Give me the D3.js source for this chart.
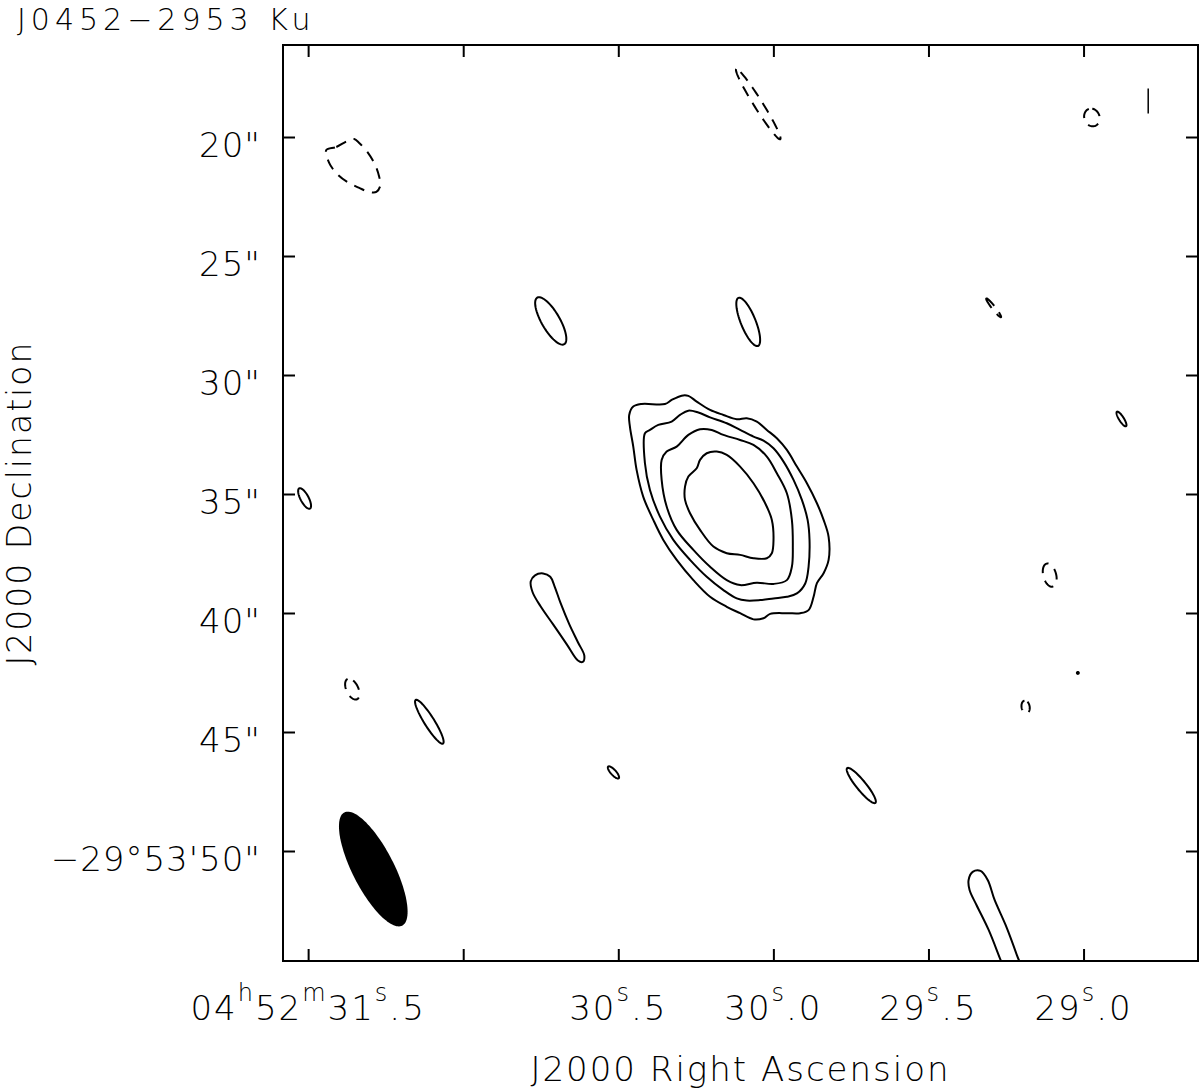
<!DOCTYPE html>
<html>
<head>
<meta charset="utf-8">
<script src="https://cdn.jsdelivr.net/npm/d3@7"></script>
<style>
  body { margin: 0; background: #fff; }
  text { font-family: "DejaVu Sans", "Liberation Sans", sans-serif; font-weight: 200; fill: #000; }
</style>
</head>
<body>
<script>
//Axis extents (RA seconds of 04h52m, Dec arcsec of -29d53m)
const raExtent = [31.581, 28.631];
const decExtent = [16.134, 54.622];

//Tick values and their labels ("^" marks a superscript letter)
const raTicks = [31.5, 31.0, 30.5, 30.0, 29.5, 29.0];
const raTickLabels = ["04^h52^m31^s.5", "", "30^s.5", "30^s.0", "29^s.5", "29^s.0"];
const decTicks = [20, 25, 30, 35, 40, 45, 50];
const decTickLabels = ["20\"", "25\"", "30\"", "35\"", "40\"", "45\"", "\u221229\u00b053'50\""];

//Phase centre the contour offsets are measured from
const RA0 = 30.1057;
const DEC0 = 35.378;
const secToArcsec = 15 * Math.cos((29 + 53 / 60 + 35.4 / 3600) * Math.PI / 180);

//Source contours, [east offset", north offset"] from outermost to innermost
const contourLevel1 = [
  [4.67,3.70],[4.50,4.05],[4.15,4.16],[3.17,4.16],[2.89,4.33],[2.47,4.51],[2.19,4.50],[1.84,4.26],
  [1.28,3.91],[0.72,3.70],[0.16,3.52],[-0.26,3.56],[-0.68,3.42],[-1.10,3.07],[-1.52,2.72],[-1.94,2.23],
  [-2.36,1.53],[-2.78,0.83],[-3.20,-0.01],[-3.48,-0.71],[-3.69,-1.42],[-3.69,-2.39],[-3.48,-2.95],
  [-3.20,-3.37],[-3.06,-3.94],[-2.85,-4.50],[-2.50,-4.63],[-1.94,-4.63],[-1.24,-4.66],[-0.96,-4.84],
  [-0.54,-4.89],[0.02,-4.63],[0.58,-4.36],[1.28,-3.94],[1.98,-3.24],[2.68,-2.39],[3.24,-1.55],
  [3.66,-0.71],[4.08,0.26],[4.36,1.39],[4.50,2.37],[4.64,3.21]
];
const contourLevel2 = [
  [4.01,2.93],[3.80,3.07],[3.45,3.28],[2.89,3.42],[2.54,3.70],[2.19,3.88],[1.77,3.80],[1.28,3.60],
  [0.58,3.35],[0.02,3.07],[-0.54,2.79],[-0.96,2.62],[-1.38,2.30],[-1.80,1.74],[-2.22,0.97],[-2.57,0.13],
  [-2.81,-0.71],[-2.89,-1.55],[-2.85,-2.68],[-2.71,-3.38],[-2.36,-3.80],[-1.94,-3.94],[-1.38,-4.01],
  [-0.82,-4.08],[-0.26,-4.10],[0.16,-4.01],[0.72,-3.66],[1.42,-3.10],[2.12,-2.39],[2.82,-1.55],
  [3.38,-0.57],[3.80,0.55],[4.01,1.67]
];
const contourLevel3 = [
  [3.31,0.97],[3.31,1.81],[3.10,2.16],[2.68,2.37],[2.19,2.86],[1.70,3.10],[1.21,3.07],[0.72,2.86],
  [0.02,2.65],[-0.54,2.44],[-1.10,1.95],[-1.52,1.25],[-1.94,0.41],[-2.15,-0.71],[-2.19,-1.83],
  [-2.15,-2.68],[-1.94,-3.24],[-1.38,-3.40],[-0.68,-3.35],[0.02,-3.45],[0.58,-3.24],[1.28,-2.68],
  [1.98,-1.97],[2.68,-1.13],[3.10,-0.15]
];
const contourLevel4 = [
  [2.33,0.13],[2.33,0.69],[2.19,1.11],[1.84,1.46],[1.70,1.81],[1.42,2.09],[1.00,2.16],[0.58,2.02],
  [0.02,1.53],[-0.54,0.83],[-1.03,-0.01],[-1.31,-0.71],[-1.38,-1.55],[-1.31,-2.11],[-1.10,-2.32],
  [-0.54,-2.32],[0.02,-2.18],[0.58,-2.11],[1.14,-1.83],[1.70,-1.13],[2.12,-0.43]
];

//Positive side lobes that are not simple ellipses
const lobeWest = [
  [8.80,-3.30],[8.62,-3.04],[8.28,-2.96],[7.98,-3.10],[7.80,-3.50],[7.55,-4.20],[7.18,-5.10],
  [6.82,-5.85],[6.55,-6.42],[6.62,-6.68],[6.82,-6.62],[7.28,-5.95],[7.86,-5.10],[8.38,-4.35],[8.72,-3.75]
];
const lobeSouthEast = [
  [-9.56,-15.84],[-9.73,-15.50],[-10.06,-15.46],[-10.36,-15.84],[-10.65,-16.68],[-11.11,-17.73],
  [-11.58,-18.99],[-12.00,-20.25],[-11.32,-20.25],[-10.90,-19.20],[-10.40,-17.94],[-9.89,-16.89],[-9.60,-16.26]
];
const lobeStripe = [[-17.09,17.42],[-17.09,16.37]];

//Negative contour that is not a simple ellipse
const negativeNorthEast = [
  [17.37,14.83],[16.95,14.96],[16.49,15.21],[16.20,15.29],[15.99,15.13],[15.65,14.75],[15.32,14.20],
  [15.15,13.70],[15.10,13.36],[15.27,13.07],[15.57,13.07],[15.99,13.24],[16.49,13.49],[16.91,13.82],[17.25,14.29]
];

//Small elliptical blobs: [east", north", semi-major", semi-minor", PA deg]
const positiveBlobs = [
  [7.96,7.65,1.13,0.38,30],
  [-0.32,7.61,1.09,0.31,22],
  [18.28,0.19,0.48,0.17,28],
  [5.33,-11.32,0.33,0.11,42],
  [-5.06,-11.87,0.94,0.20,39],
  [13.05,-9.19,1.08,0.21,32],
  [-15.97,3.53,0.36,0.10,32],
  [-14.14,-7.14,0.04,0.04,0]
];
const negativeBlobs = [
  [-0.74,16.76,1.74,0.18,32],
  [-14.73,16.20,0.38,0.32,20],
  [-10.61,8.20,0.50,0.07,38],
  [-12.96,-3.03,0.50,0.27,15],
  [16.28,-7.82,0.47,0.25,25],
  [-11.95,-8.57,0.27,0.17,10]
];

//Restoring beam: [east", north", bmaj", bmin", PA deg]
const beam = [15.40, -15.38, 5.34, 1.74, 27];

const width = 1200;
const height = 1091;
const margin = {left: 283, right: 2, top: 45, bottom: 130};

const svg = d3.select("body").append("svg")
  .attr("width", width)
  .attr("height", height);

//Scales: RA grows to the left, Dec seconds grow downward
const x = d3.scaleLinear().domain(raExtent).range([margin.left, width - margin.right]);
const y = d3.scaleLinear().domain(decExtent).range([margin.top, height - margin.bottom]);

//offset (east", north") -> pixel
const toXY = ([e, n]) => [x(RA0 + e / secToArcsec), y(DEC0 - n)];

//points round an ellipse given in offsets
function ellipsePoints([e0, n0, a, b, pa], count = 72) {
  const p = pa * Math.PI / 180;
  return d3.range(count).map(i => {
    const t = 2 * Math.PI * i / count;
    const u = a * Math.cos(t), v = b * Math.sin(t);
    return [e0 + u * Math.sin(p) + v * Math.cos(p), n0 + u * Math.cos(p) - v * Math.sin(p)];
  });
}

svg.append("clipPath").attr("id", "plotClip")
  .append("rect")
  .attr("x", margin.left).attr("y", margin.top)
  .attr("width", width - margin.right - margin.left)
  .attr("height", height - margin.bottom - margin.top);

const g = svg.append("g").attr("clip-path", "url(#plotClip)");

const smoothLine = d3.line().curve(d3.curveCatmullRomClosed.alpha(0.5));
const ellipseLine = d3.line().curve(d3.curveLinearClosed);

//Source and irregular lobes
g.selectAll(".contour")
  .data([contourLevel1, contourLevel2, contourLevel3, contourLevel4, lobeWest, lobeSouthEast])
  .join("path")
  .attr("class", "contour")
  .attr("d", d => smoothLine(d.map(toXY)))
  .attr("fill", "none")
  .attr("stroke", "#000")
  .attr("stroke-width", 2);

g.append("path")
  .attr("d", d3.line()(lobeStripe.map(toXY)))
  .attr("stroke", "#000")
  .attr("stroke-width", 1.5);

g.append("path")
  .attr("d", smoothLine(negativeNorthEast.map(toXY)))
  .attr("fill", "none")
  .attr("stroke", "#000")
  .attr("stroke-width", 2)
  .attr("stroke-dasharray", "11,8");

g.selectAll(".posBlob")
  .data(positiveBlobs)
  .join("path")
  .attr("class", "posBlob")
  .attr("d", d => ellipseLine(ellipsePoints(d).map(toXY)))
  .attr("fill", "none")
  .attr("stroke", "#000")
  .attr("stroke-width", 2);

g.selectAll(".negBlob")
  .data(negativeBlobs)
  .join("path")
  .attr("class", "negBlob")
  .attr("d", d => ellipseLine(ellipsePoints(d).map(toXY)))
  .attr("fill", "none")
  .attr("stroke", "#000")
  .attr("stroke-width", 2)
  .attr("stroke-dasharray", "11,8");

//Beam
g.append("path")
  .attr("d", ellipseLine(ellipsePoints([beam[0], beam[1], beam[2] / 2, beam[3] / 2, beam[4]], 120).map(toXY)))
  .attr("fill", "#000");

//Ticks on all four sides, pointing inward
const tickLen = 12;
const axes = [
  [d3.axisBottom(x).tickValues(raTicks), `translate(0,${height - margin.bottom})`],
  [d3.axisTop(x).tickValues(raTicks), `translate(0,${margin.top})`],
  [d3.axisLeft(y).tickValues(decTicks), `translate(${margin.left},0)`],
  [d3.axisRight(y).tickValues(decTicks), `translate(${width - margin.right},0)`]
];
axes.forEach(([axis, tr]) => {
  const a = svg.append("g").attr("transform", tr)
    .call(axis.tickSize(-tickLen).tickFormat(""));
  a.select(".domain").remove();
  a.selectAll("line").attr("stroke", "#000").attr("stroke-width", 2);
});

//Frame
svg.append("rect")
  .attr("x", margin.left).attr("y", margin.top)
  .attr("width", width - margin.right - margin.left)
  .attr("height", height - margin.bottom - margin.top)
  .attr("fill", "none")
  .attr("stroke", "#000")
  .attr("stroke-width", 2);

//RA tick labels with superscript units
raTicks.forEach((t, i) => {
  const label = raTickLabels[i];
  if (!label) return;
  const text = svg.append("text")
    .attr("x", x(t))
    .attr("y", 1020)
    .attr("text-anchor", "middle")
    .attr("font-size", 34)
    .attr("letter-spacing", 2);
  let sup = false;
  label.split(/(\^.)/).filter(s => s).forEach(s => {
    if (s[0] === "^") {
      text.append("tspan").attr("font-size", 24).attr("dy", -19).text(s[1]);
      sup = true;
    } else {
      text.append("tspan").attr("dy", sup ? 19 : 0).text(s);
      sup = false;
    }
  });
});

//Dec tick labels
svg.selectAll(".decLabel")
  .data(decTicks)
  .join("text")
  .attr("class", "decLabel")
  .attr("x", 261)
  .attr("y", d => y(d) + 20)
  .attr("text-anchor", "end")
  .attr("font-size", 34)
  .attr("letter-spacing", 1)
  .text((d, i) => decTickLabels[i]);

//Titles
svg.append("text")
  .attr("x", 17).attr("y", 30)
  .attr("font-size", 30)
  .attr("letter-spacing", 5)
  .text("J0452\u22122953 Ku");

svg.append("text")
  .attr("x", (margin.left + width - margin.right) / 2)
  .attr("y", 1081)
  .attr("text-anchor", "middle")
  .attr("font-size", 34)
  .attr("letter-spacing", 2)
  .text("J2000 Right Ascension");

svg.append("text")
  .attr("transform", `translate(31,${(margin.top + height - margin.bottom) / 2}) rotate(-90)`)
  .attr("text-anchor", "middle")
  .attr("font-size", 33)
  .attr("letter-spacing", 2)
  .text("J2000 Declination");
</script>
</body>
</html>
